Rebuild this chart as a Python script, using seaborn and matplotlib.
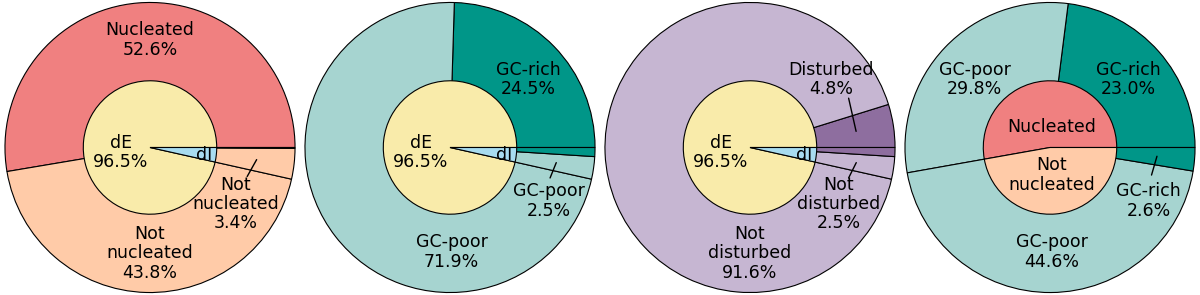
import numpy as np
import matplotlib
matplotlib.use("Agg")
import matplotlib.pyplot as plt
import seaborn as sns

sns.set_theme(style="white")
plt.rcParams["font.family"] = ["DejaVu Sans"]
plt.rcParams["text.color"] = "black"

# --- data ---
inner_labels = ["dE", "dI"]
inner_values = [96.5, 3.5]

nuc_labels = ["Nucleated", "Not nucleated", "Not nucleated", "Nucleated"]
nuc_values = [52.6, 43.8, 3.4, 0.1]

gc_labels = ["GC-rich", "GC-poor", "GC-poor", "GC-rich"]
gc_values = [24.5, 71.9, 2.5, 1.0]

dist_labels = ["Disturbed", "Not disturbed", "Not disturbed", "Disturbed"]
dist_values = [4.8, 91.6, 2.5, 1.0]

nucgc_inner_labels = ["Nucleated", "Not nucleated"]
nucgc_inner_values = [52.8, 47.2]
nucgc_labels = ["GC-rich", "GC-poor", "GC-poor", "GC-rich"]
nucgc_values = [23.0, 29.8, 44.6, 2.6]

# --- colours ---
RED, PEACH = "#F08080", "#FFCBA8"
YELLOW, BLUE = "#F9EBAA", "#A8DCF0"
TEAL, LTEAL = "#009688", "#A6D4D0"
PURPLE, LAV = "#8E6E9F", "#C6B6D2"

FS = 12.5
EDGE = dict(edgecolor="black", linewidth=0.8)


def wrap(name):
    return name.replace("Not ", "Not\n")


def mid_angle(values, i):
    v = np.asarray(values, dtype=float)
    start = np.concatenate([[0], np.cumsum(v)])[:-1]
    return np.deg2rad((start[i] + v[i] / 2) / v.sum() * 360)


def nested_pie(ax, outer_vals, outer_cols, inner_vals, inner_cols,
               outer_text, inner_text, leaders):
    ax.pie(outer_vals, colors=outer_cols, radius=1.0, startangle=0,
           counterclock=True, wedgeprops=EDGE)
    ax.pie(inner_vals, colors=inner_cols, radius=0.46, startangle=0,
           counterclock=True, wedgeprops=EDGE)
    for txt, (x, y) in outer_text + inner_text:
        ax.text(x, y, txt, ha="center", va="center", fontsize=FS,
                linespacing=1.1, color="black")
    # leader lines for the thin wedges
    for idx, (ex, ey) in leaders:
        a = mid_angle(outer_vals, idx)
        ax.plot([0.74 * np.cos(a), ex], [0.74 * np.sin(a), ey],
                color="black", lw=1.0)
    ax.set_xlim(-1.034, 1.034)
    ax.set_ylim(-1.017, 1.017)
    ax.set_aspect("equal")
    ax.axis("off")


fig = plt.figure(figsize=(12, 2.95), dpi=100)
axes = [fig.add_axes([i * 0.25, 0, 0.25, 1]) for i in range(4)]

inner_txt = [(f"{inner_labels[0]}\n{inner_values[0]:.1f}%", (-0.2, -0.035)),
             (inner_labels[1], (0.37, -0.055))]

# panel 1: nucleation
nested_pie(
    axes[0], nuc_values, [RED, PEACH, PEACH, RED], inner_values, [YELLOW, BLUE],
    [(f"{wrap(nuc_labels[0])}\n{nuc_values[0]:.1f}%", (0.0, 0.74)),
     (f"{wrap(nuc_labels[1])}\n{nuc_values[1]:.1f}%", (0.0, -0.73)),
     (f"{wrap(nuc_labels[2])}\n{nuc_values[2]:.1f}%", (0.59, -0.39))],
    inner_txt, [(2, (0.67, -0.2))])

# panel 2: GC richness
nested_pie(
    axes[1], gc_values, [TEAL, LTEAL, LTEAL, TEAL], inner_values, [YELLOW, BLUE],
    [(f"{gc_labels[0]}\n{gc_values[0]:.1f}%", (0.54, 0.47)),
     (f"{gc_labels[1]}\n{gc_values[1]:.1f}%", (0.01, -0.72)),
     (f"{gc_labels[2]}\n{gc_values[2]:.1f}%", (0.68, -0.37))],
    inner_txt, [(2, (0.69, -0.21))])

# panel 3: disturbance
nested_pie(
    axes[2], dist_values, [PURPLE, LAV, LAV, PURPLE], inner_values, [YELLOW, BLUE],
    [(f"{dist_labels[0]}\n{dist_values[0]:.1f}%", (0.56, 0.47)),
     (f"{wrap(dist_labels[1])}\n{dist_values[1]:.1f}%", (0.0, -0.73)),
     (f"{wrap(dist_labels[2])}\n{dist_values[2]:.1f}%", (0.61, -0.39))],
    inner_txt, [(0, (0.68, 0.34)), (2, (0.68, -0.21))])

# panel 4: GC richness among nucleated / not nucleated dE
nested_pie(
    axes[3], nucgc_values, [TEAL, LTEAL, LTEAL, TEAL], nucgc_inner_values,
    [RED, PEACH],
    [(f"{nucgc_labels[0]}\n{nucgc_values[0]:.1f}%", (0.54, 0.47)),
     (f"{nucgc_labels[1]}\n{nucgc_values[1]:.1f}%", (-0.52, 0.47)),
     (f"{nucgc_labels[2]}\n{nucgc_values[2]:.1f}%", (0.01, -0.72)),
     (f"{nucgc_labels[3]}\n{nucgc_values[3]:.1f}%", (0.68, -0.37))],
    [(nucgc_inner_labels[0], (0.01, 0.14)),
     (wrap(nucgc_inner_labels[1]), (0.01, -0.19))],
    [(3, (0.7, -0.19))])

fig.savefig("out.png", dpi=100)
